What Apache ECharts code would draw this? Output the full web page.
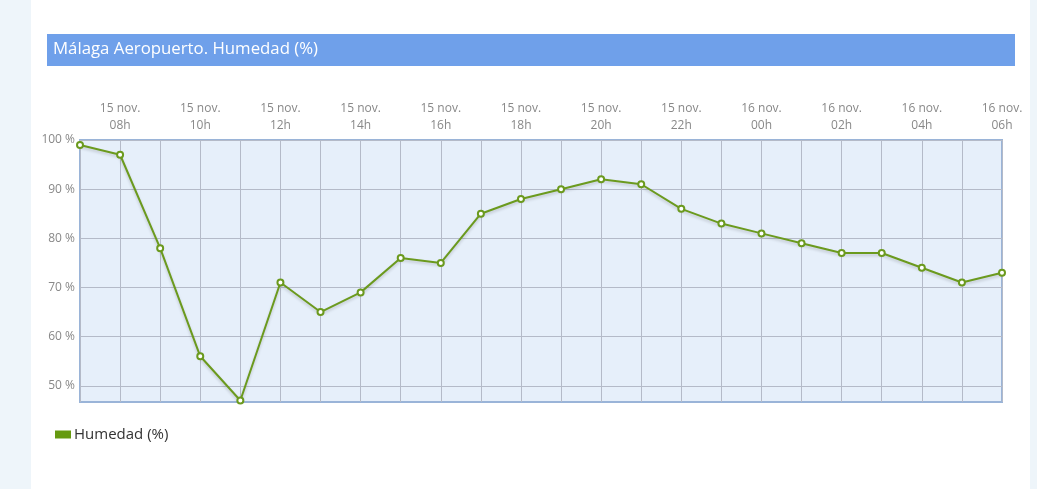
<!DOCTYPE html>
<html>
<head>
<meta charset="utf-8">
<script src="https://cdn.jsdelivr.net/npm/echarts@6/dist/echarts.min.js"></script>
<style>
html,body{margin:0;padding:0;width:1037px;height:489px;overflow:hidden;background:#eef5fa;}
#card{position:absolute;left:31px;top:0;width:999px;height:489px;background:#ffffff;}
#chart{position:absolute;left:0;top:0;width:1037px;height:489px;}
</style>
</head>
<body>
<div id="card"></div>
<div id="chart"></div>
<script>
const titleText = 'Málaga Aeropuerto. Humedad (%)';
const seriesName = 'Humedad (%)';
const categories = ['15 nov.\n07h','15 nov.\n08h','15 nov.\n09h','15 nov.\n10h','15 nov.\n11h','15 nov.\n12h','15 nov.\n13h','15 nov.\n14h','15 nov.\n15h','15 nov.\n16h','15 nov.\n17h','15 nov.\n18h','15 nov.\n19h','15 nov.\n20h','15 nov.\n21h','15 nov.\n22h','15 nov.\n23h','16 nov.\n00h','16 nov.\n01h','16 nov.\n02h','16 nov.\n03h','16 nov.\n04h','16 nov.\n05h','16 nov.\n06h'];
const humedad = [99,97,78,56,47,71,65,69,76,75,85,88,90,92,91,86,83,81,79,77,77,74,71,73];
const yTicks = [50,60,70,80,90,100];

const chart = echarts.init(document.getElementById('chart'), null, {renderer:'canvas'});
chart.setOption({
  animation:false,
  textStyle:{fontFamily:'"Open Sans", sans-serif'},
  graphic:[{type:'rect',shape:{x:47,y:34,width:968,height:32},style:{fill:'#6fa0ea'},z:0}],
  title:{text:titleText,left:53,top:41,padding:0,textStyle:{color:'#ffffff',fontSize:16.8,fontWeight:'normal',fontFamily:'"Open Sans", sans-serif'}},
  legend:{left:50,top:422,itemWidth:16,itemHeight:8,itemGap:10,icon:'rect',
    data:[{name:seriesName,icon:'rect',itemStyle:{color:'#669a10',borderWidth:0}}],
    textStyle:{color:'#333333',fontSize:15,padding:[0,0,0,-2]}},
  grid:{left:80,right:35,top:140,bottom:87,show:true,backgroundColor:'#e6effa',borderColor:'#9ab4d8',borderWidth:2,containLabel:false},
  xAxis:{type:'category',data:categories,boundaryGap:false,position:'top',
    axisLine:{show:false},axisTick:{show:false},
    axisLabel:{interval:(i)=>i%2===1,color:'#888888',fontSize:12,lineHeight:17,margin:6,fontFamily:'"Open Sans", sans-serif'},
    splitLine:{show:true,interval:0,lineStyle:{color:'#b4bac8',width:1}}},
  yAxis:{type:'value',min:46.7,max:100,
    axisLine:{show:false},axisTick:{show:false,customValues:yTicks},
    axisLabel:{customValues:yTicks,formatter:'{value} %',color:'#888888',fontSize:12,margin:5,fontFamily:'"Open Sans", sans-serif'},
    splitLine:{show:true,lineStyle:{color:'#b4bac8',width:1}}},
  series:[{name:seriesName,type:'line',data:humedad,color:'#6b9a1e',
    symbol:'circle',symbolSize:6,showAllSymbol:true,
    itemStyle:{color:'#ffffff',borderColor:'#6b9a1e',borderWidth:2},
    lineStyle:{color:'#6b9a1e',width:2,shadowColor:'rgba(0,0,0,0.18)',shadowBlur:3,shadowOffsetY:2}}]
});
</script>
</body>
</html>
